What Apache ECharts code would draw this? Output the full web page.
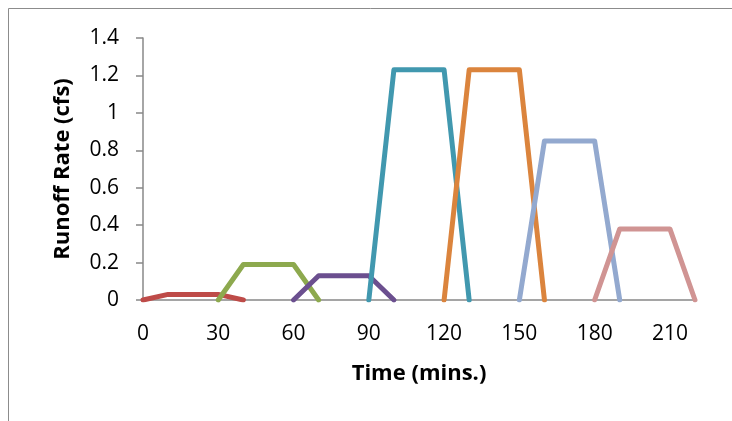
<!DOCTYPE html>
<html lang="en">
<head>
    <meta charset="UTF-8">
    <title>Runoff Rate</title>
    <script src="https://cdn.jsdelivr.net/npm/echarts@6/dist/echarts.min.js"></script>
    <style>
        html, body { margin: 0; padding: 0; background: #fff; }
        #chart { width: 732px; height: 421px; }
    </style>
</head>
<body>
    <div id="chart"></div>
    <script>
        // x 值 (分钟) 与各段流量
        var red = [[0, 0], [10, 0.03], [30, 0.03], [40, 0]];
        var green = [[30, 0], [40, 0.19], [60, 0.19], [70, 0]];
        var purple = [[60, 0], [70, 0.13], [90, 0.13], [100, 0]];
        var teal = [[90, 0], [100, 1.23], [120, 1.23], [130, 0]];
        var orange = [[120, 0], [130, 1.23], [150, 1.23], [160, 0]];
        var lightBlue = [[150, 0], [160, 0.85], [180, 0.85], [190, 0]];
        var pink = [[180, 0], [190, 0.38], [210, 0.38], [220, 0]];

        var seriesData = [red, green, purple, teal, orange, lightBlue, pink];
        var colors = ['#BE4B48', '#8DA94E', '#6B4F8F', '#4198AF', '#DB843D', '#93A9CF', '#D09493'];

        var myChart = echarts.init(document.getElementById('chart'));

        var series = seriesData.map(function (d, i) {
            return {
                type: 'line',
                data: d,
                symbol: 'none',
                lineStyle: { width: 5, color: colors[i], cap: 'round', join: 'round' },
                itemStyle: { color: colors[i] }
            };
        });

        var option = {
            animation: false,
            textStyle: { fontFamily: 'Open Sans' },
            graphic: [{
                type: 'rect',
                shape: { x: 8.5, y: 8.5, width: 760, height: 450 },
                style: { fill: 'none', stroke: '#8c8c8c', lineWidth: 1 },
                silent: true
            }],
            grid: { left: 143, right: 37, top: 38, bottom: 121 },
            xAxis: {
                type: 'value',
                min: 0,
                max: 220,
                interval: 30,
                name: 'Time (mins.)',
                nameLocation: 'middle',
                nameGap: 63,
                nameTextStyle: { fontSize: 22, fontWeight: 'bold', color: '#000' },
                axisLine: { show: true, lineStyle: { color: '#888888', width: 1.5 } },
                axisTick: { show: false },
                splitLine: { show: false },
                axisLabel: { fontSize: 21, color: '#000', margin: 24, showMaxLabel: false }
            },
            yAxis: {
                type: 'value',
                min: 0,
                max: 1.4,
                interval: 0.2,
                name: 'Runoff Rate (cfs)',
                nameLocation: 'middle',
                nameGap: 69,
                nameTextStyle: { fontSize: 22, fontWeight: 'bold', color: '#000' },
                axisLine: { show: true, lineStyle: { color: '#888888', width: 1.5 } },
                axisTick: { show: true, length: 7, lineStyle: { color: '#888888', width: 1.5 } },
                splitLine: { show: false },
                axisLabel: {
                    fontSize: 21, color: '#000', margin: 24,
                    formatter: function (v) { return String(Math.round(v * 10) / 10); }
                }
            },
            series: series
        };

        myChart.setOption(option);
    </script>
</body>
</html>
